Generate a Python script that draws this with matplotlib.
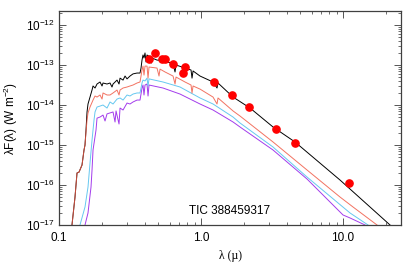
import numpy as np
import matplotlib
matplotlib.use("Agg")
import matplotlib.pyplot as plt
from matplotlib.ticker import LogLocator, LogFormatterMathtext, NullFormatter

plt.rcParams['font.family'] = ['Liberation Sans', 'DejaVu Sans']
plt.rcParams['mathtext.fontset'] = 'custom'
plt.rcParams['mathtext.rm'] = 'Liberation Sans'
plt.rcParams['mathtext.default'] = 'regular'

# model SED: hottest fit (black)
wl_black = [0.1234, 0.1296, 0.1339, 0.1383, 0.1452, 0.150, 0.1524, 0.1549, 0.1575, 0.160,
            0.1653, 0.1708, 0.1736, 0.1793, 0.1852, 0.1944, 0.2009, 0.2041, 0.2178, 0.2287,
            0.2361, 0.2401, 0.2562, 0.2646, 0.2690, 0.2824, 0.2917, 0.3013, 0.3162, 0.3320,
            0.3542, 0.3718, 0.3780, 0.3841, 0.3903, 0.3967, 0.4032, 0.410, 0.4165, 0.4375,
            0.4465, 0.4505, 0.4898, 0.5579, 0.6352, 0.6561, 0.6668, 0.7717, 0.8504, 0.8641,
            0.8786, 0.984, 1.215, 1.296, 1.317, 1.681, 2.214, 3.214, 4.59, 9.526, 21.43]
fl_black = [1.0e-17, 5.0e-17, 2.0e-16, 2.1e-16, 3.16e-16, 7.5e-16, 1.0e-15, 2.37e-15, 6.7e-15, 1.06e-14,
            1.58e-14, 2.37e-14, 2.99e-14, 2.66e-14, 3.35e-14, 3.76e-14, 2.99e-14, 3.55e-14, 3.35e-14, 3.55e-14,
            2.82e-14, 3.35e-14, 4.2e-14, 3.35e-14, 4.7e-14, 4.2e-14, 5.3e-14, 4.5e-14, 5.3e-14, 6.0e-14,
            6.3e-14, 6.3e-14, 8.4e-14, 1.33e-13, 1.78e-13, 1.5e-13, 2.0e-13, 1.19e-13, 1.78e-13, 1.58e-13,
            1.12e-13, 1.5e-13, 1.33e-13, 1.26e-13, 1.06e-13, 6.7e-14, 1.0e-13, 8.4e-14, 7.5e-14, 4.7e-14,
            7.1e-14, 5.3e-14, 3.76e-14, 2.66e-14, 3.55e-14, 1.58e-14, 8.4e-15, 2.82e-15, 1.19e-15, 1.33e-16, 1.0e-17]

# red fit
wl_red = [0.1234, 0.1296, 0.1339, 0.1383, 0.1452, 0.150, 0.1524, 0.1549, 0.1575, 0.160,
          0.1653, 0.1736, 0.1793, 0.1852, 0.1944, 0.2009, 0.2041, 0.2178, 0.2287, 0.2401,
          0.2562, 0.2646, 0.2690, 0.2824, 0.3013, 0.3162, 0.3320, 0.3542, 0.3718, 0.378,
          0.3841, 0.3903, 0.3967, 0.4032, 0.4165, 0.4235, 0.4303, 0.4898, 0.506, 0.5143,
          0.5579, 0.6352, 0.6561, 0.6668, 0.7717, 0.8504, 0.8641, 0.8786, 0.984, 1.215,
          1.296, 1.317, 1.681, 1.882, 3.214, 5.579, 9.526, 11.76, 17.35]
fl_red = [1.0e-17, 5.0e-17, 2.0e-16, 2.1e-16, 3.16e-16, 7.5e-16, 1.0e-15, 2.11e-15, 4.2e-15, 6.3e-15,
          8.9e-15, 1.33e-14, 1.68e-14, 1.58e-14, 1.78e-14, 1.41e-14, 2.0e-14, 1.78e-14, 1.78e-14, 2.0e-14,
          2.37e-14, 1.78e-14, 2.37e-14, 2.66e-14, 2.82e-14, 2.99e-14, 3.16e-14, 3.55e-14, 3.76e-14, 5.3e-14,
          7.5e-14, 9.4e-14, 5.6e-14, 9.4e-14, 9.4e-14, 4.7e-14, 8.9e-14, 8.4e-14, 5.3e-14, 7.9e-14,
          6.7e-14, 5.3e-14, 3.35e-14, 5.0e-14, 3.76e-14, 3.16e-14, 2.0e-14, 2.99e-14, 2.5e-14, 1.58e-14,
          1.06e-14, 1.5e-14, 7.1e-15, 5.3e-15, 1.19e-15, 2.37e-16, 5.0e-17, 2.82e-17, 1.0e-17]

# light blue fit
wl_blue = [0.1405, 0.1524, 0.160, 0.1653, 0.1708, 0.1764, 0.1793, 0.1852, 0.1944, 0.2041,
           0.2178, 0.2287, 0.2401, 0.2562, 0.2690, 0.2824, 0.3013, 0.3162, 0.3320, 0.3542,
           0.3718, 0.378, 0.3841, 0.3903, 0.4032, 0.4165, 0.4235, 0.4303, 0.540, 0.7114,
           0.984, 1.215, 1.681, 1.882, 3.214, 5.579, 11.20, 15.0]
fl_blue = [1.0e-17, 2.82e-17, 8.9e-17, 3.55e-16, 1.33e-15, 4.2e-15, 6.7e-15, 8.9e-15, 9.4e-15, 1.0e-14,
           8.4e-15, 1.19e-14, 1.06e-14, 1.41e-14, 1.5e-14, 1.33e-14, 1.78e-14, 1.68e-14, 1.88e-14, 2.0e-14,
           2.0e-14, 2.66e-14, 3.55e-14, 4.2e-14, 4.0e-14, 4.7e-14, 2.99e-14, 4.5e-14, 3.76e-14, 2.82e-14,
           1.5e-14, 1.06e-14, 5.0e-15, 3.55e-15, 8.9e-16, 1.58e-16, 2.0e-17, 1.0e-17]

# purple fit
wl_purple = [0.1524, 0.160, 0.168, 0.1708, 0.1736, 0.1822, 0.1852, 0.1944, 0.2041, 0.2109,
             0.2178, 0.2401, 0.248, 0.2521, 0.2646, 0.2690, 0.2824, 0.3013, 0.3162, 0.3320,
             0.3542, 0.3718, 0.378, 0.3841, 0.3903, 0.3967, 0.4032, 0.4165, 0.4235, 0.4303,
             0.540, 0.7114, 0.984, 1.215, 1.681, 1.882, 3.214, 5.579, 10.0, 11.20, 14.29]
fl_purple = [1.0e-17, 2.0e-17, 8.9e-17, 2.37e-16, 7.5e-16, 2.37e-15, 4.7e-15, 5.0e-15, 5.6e-15, 3.98e-15,
             6.0e-15, 6.7e-15, 3.76e-15, 7.1e-15, 3.35e-15, 8.4e-15, 7.5e-15, 1.12e-14, 1.06e-14, 1.19e-14,
             1.33e-14, 1.33e-14, 1.88e-14, 2.66e-14, 3.16e-14, 1.78e-14, 3.16e-14, 3.35e-14, 1.68e-14, 3.16e-14,
             2.66e-14, 1.88e-14, 1.06e-14, 7.5e-15, 3.76e-15, 2.82e-15, 7.5e-16, 1.41e-16, 1.78e-17, 1.5e-17, 1.0e-17]

# photometry
phot_wl = [0.4303, 0.474, 0.531, 0.558, 0.635, 0.772, 0.7466, 1.234, 1.653, 2.178, 3.376, 4.59, 11.02]
phot_fl = [1.41e-13, 2.0e-13, 1.41e-13, 1.41e-13, 1.06e-13, 8.9e-14, 6.3e-14, 3.76e-14, 1.78e-14,
           8.9e-15, 2.5e-15, 1.12e-15, 1.12e-16]

xtick_vals = [0.1, 1.0, 10.0]
xtick_labels = ['0.1', '1.0', '10.0']
ytick_vals = [1e-17, 1e-16, 1e-15, 1e-14, 1e-13, 1e-12]
target = 'TIC 388459317'

fig = plt.figure(figsize=(4.15, 2.64), dpi=100)
ax = fig.add_axes([0.1422, 0.1477, 0.8241, 0.8106])

ax.plot(wl_purple, fl_purple, color='#a33cec', lw=0.7)
ax.plot(wl_blue, fl_blue, color='#66c8f0', lw=0.7)
ax.plot(wl_black, fl_black, color='black', lw=0.7)
ax.plot(wl_red, fl_red, color='#f05a46', lw=0.7, alpha=0.85)
ax.plot(phot_wl, phot_fl, 'o', color='red', ms=5.2, mec='red', zorder=5)

ax.set_xscale('log')
ax.set_yscale('log')

ax.set_xticks(xtick_vals)
ax.set_xticklabels(xtick_labels)
ax.xaxis.set_minor_locator(LogLocator(base=10, subs=np.arange(2, 10)))
ax.xaxis.set_minor_formatter(NullFormatter())
ax.set_yticks(ytick_vals)
ax.yaxis.set_major_formatter(LogFormatterMathtext())
ax.yaxis.set_minor_locator(LogLocator(base=10, subs=np.arange(2, 10), numticks=10))
ax.yaxis.set_minor_formatter(NullFormatter())
ax.set_xlim(0.1, 25.6)
ax.set_ylim(1e-17, 2.24e-12)

ax.tick_params(which='both', direction='in', top=True, right=True, color='#555555', labelsize=8.5)
ax.tick_params(which='major', length=5, width=0.7)
ax.tick_params(which='minor', length=2.5, width=0.6)
ax.tick_params(axis='x', pad=5)
ax.tick_params(axis='y', pad=3)
for sp in ax.spines.values():
    sp.set_color('#404040')
    sp.set_linewidth(0.9)

ax.set_xlabel('λ (µ)', fontsize=8.5, family=['Liberation Serif', 'DejaVu Serif'], labelpad=4)
ax.set_ylabel(r'λF(λ) (W m$^{-2}$)', fontsize=8.5, labelpad=4)
ax.text(0.5, 0.065, target, transform=ax.transAxes, ha='center', va='center', fontsize=8.5)

fig.savefig('out.png', dpi=100)
